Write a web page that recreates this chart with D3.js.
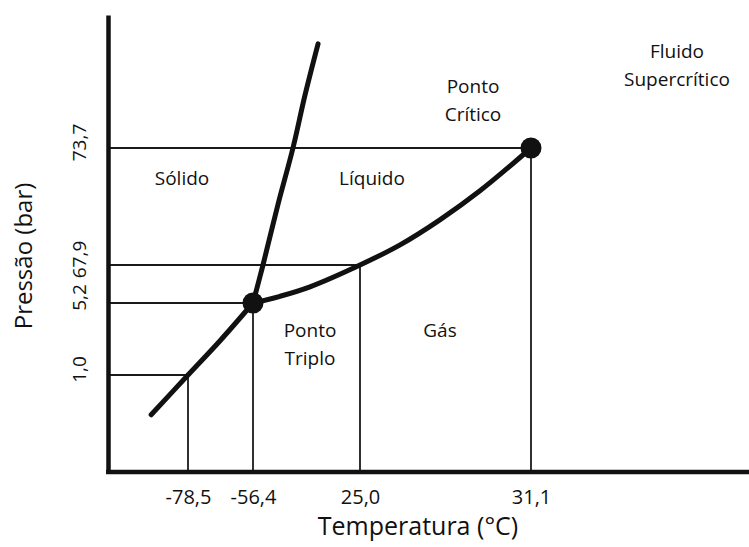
<!DOCTYPE html>
<html>
<head>
<meta charset="utf-8">
<script src="https://cdn.jsdelivr.net/npm/d3@7"></script>
<style>
  html, body { margin: 0; padding: 0; background: #fff; }
  svg { display: block; font-family: "Open Sans", "DejaVu Sans", sans-serif; }
</style>
</head>
<body>
<svg id="chart" width="749" height="547"></svg>
<script>
// ---- Data (schematic CO2 phase diagram) ----
const tempTicks = [-78.5, -56.4, 25.0, 31.1];      // °C
const pressTicks = [1.0, 5.2, 67.9, 73.7];         // bar

// Guide points (T, P) whose guide lines go to the axes
const guideT = [-78.5, -56.4, 25.0, 31.1];
const guideP = [1.0, 5.2, 67.9, 73.7];

// Sublimation curve (solid–gas)
const sublimationT = [-88.4, -78.5, -67.6, -56.4];
const sublimationP = [0.59, 1.0, 3.0, 5.2];

// Melting curve (solid–liquid)
const meltingT = [-56.4, -48.8, -37.4, -26.0, -16.8, -6.9];
const meltingP = [5.2, 67.9, 70.9, 73.7, 84.2, 94.3];

// Vaporization curve (liquid–gas)
const vaporT = [-56.4, -35.86, -13.04, 25.0, 26.43, 27.85, 29.28, 31.1];
const vaporP = [5.2, 16.26, 31.93, 67.9, 68.90, 70.14, 71.58, 73.7];

// Special points
const pointNames = ["Ponto Triplo", "Ponto Crítico"];
const pointT = [-56.4, 31.1];
const pointP = [5.2, 73.7];

const xTitle = "Temperatura (°C)";
const yTitle = "Pressão (bar)";

// ---- Chart ----
const svg = d3.select("#chart");
const locale = d3.formatLocale({decimal: ",", thousands: ".", grouping: [3], currency: ["", ""], minus: "-"});
const fmt = locale.format(".1f");

// Schematic (piecewise) scales: each labelled value gets its own place on the axis
const xMin = -100, xMax = 60, yMin = 0, yMax = 100;
const x = d3.scaleLinear()
  .domain([xMin, ...tempTicks, xMax])
  .range([108, 188, 253, 360, 531, 749]);
const y = d3.scaleLinear()
  .domain([yMin, ...pressTicks, yMax])
  .range([472, 375, 303, 265, 148, 15]);

const ink = "#111";

// Guide lines
const guides = guideT.map((t, i) => ({t, p: guideP[i]}));
const gGuides = svg.append("g").attr("stroke", "#1a1a1a").attr("stroke-width", 1.8);
gGuides.selectAll("line.h").data(guides).join("line").attr("class", "h")
  .attr("x1", x(xMin)).attr("x2", d => x(d.t))
  .attr("y1", d => y(d.p)).attr("y2", d => y(d.p));
gGuides.selectAll("line.v").data(guides).join("line").attr("class", "v")
  .attr("x1", d => x(d.t)).attr("x2", d => x(d.t))
  .attr("y1", d => y(d.p)).attr("y2", y(yMin));

// Phase boundary curves
const line = d3.line().x(d => x(d[0])).y(d => y(d[1])).curve(d3.curveCatmullRom.alpha(0.5));
const curves = [
  d3.zip(sublimationT, sublimationP),
  d3.zip(meltingT, meltingP),
  d3.zip(vaporT, vaporP)
];
svg.append("g").selectAll("path").data(curves).join("path")
  .attr("d", line).attr("fill", "none").attr("stroke", ink)
  .attr("stroke-width", 5).attr("stroke-linecap", "round").attr("stroke-linejoin", "round");

// Special points
svg.append("g").selectAll("circle").data(d3.zip(pointT, pointP)).join("circle")
  .attr("cx", d => x(d[0])).attr("cy", d => y(d[1])).attr("r", 10.5).attr("fill", ink);

// Axes
const xAxis = svg.append("g").attr("transform", `translate(0,${y(yMin)})`)
  .call(d3.axisBottom(x).tickValues(tempTicks).tickFormat(fmt).tickSize(0).tickPadding(18));
const yAxis = svg.append("g").attr("transform", `translate(${x(xMin)},0)`)
  .call(d3.axisLeft(y).tickValues(pressTicks).tickFormat(fmt).tickSize(0).tickPadding(0));
[xAxis, yAxis].forEach(g => {
  g.select(".domain").attr("stroke", ink).attr("stroke-width", 4.5);
  g.selectAll("text").attr("fill", "#111").attr("font-family", "Open Sans").attr("font-size", 20);
});
xAxis.select(".domain").attr("d", `M${x(xMin) - 2},0H749`);
yAxis.selectAll(".tick text")
  .attr("font-size", 19)
  .attr("transform", "rotate(-90)")
  .attr("text-anchor", "middle")
  .attr("x", 6).attr("y", -22).attr("dy", 0);

// Axis titles
svg.append("text").attr("x", 418).attr("y", 535).attr("text-anchor", "middle")
  .attr("font-size", 25).attr("fill", "#111").text(xTitle);
svg.append("text").attr("transform", "translate(32,256) rotate(-90)").attr("text-anchor", "middle")
  .attr("font-size", 24).attr("fill", "#111").text(yTitle);

// Region / point labels
const labels = [
  {lines: ["Sólido"], x: 182, y: 185},
  {lines: ["Líquido"], x: 372, y: 185},
  {lines: ["Gás"], x: 440, y: 337},
  {lines: ["Ponto", "Triplo"], x: 310, y: 337},
  {lines: ["Ponto", "Crítico"], x: 473, y: 93},
  {lines: ["Fluido", "Supercrítico"], x: 677, y: 58}
];
const gl = svg.append("g").attr("font-size", 19).attr("fill", "#111").attr("text-anchor", "middle");
labels.forEach(l => {
  const t = gl.append("text").attr("x", l.x).attr("y", l.y);
  l.lines.forEach((s, i) => t.append("tspan").attr("x", l.x).attr("dy", i === 0 ? 0 : 28).text(s));
});
</script>
</body>
</html>
